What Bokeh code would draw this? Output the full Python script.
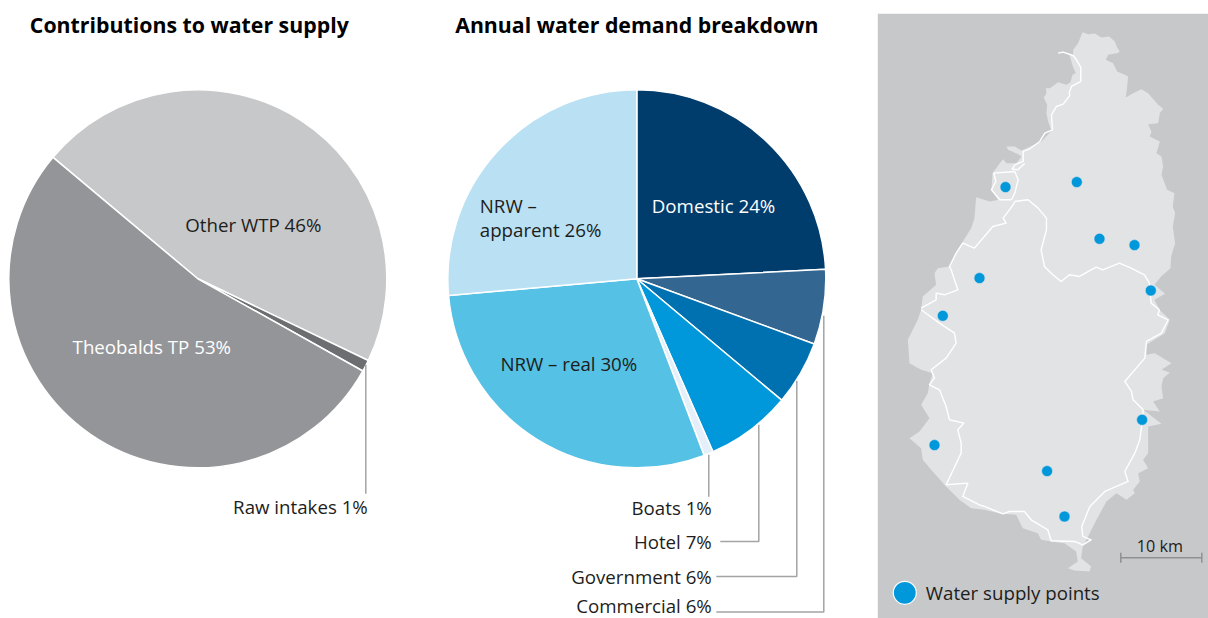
import numpy as np
from bokeh.plotting import figure
from bokeh.embed import file_html
from bokeh.resources import INLINE
from bokeh.core.properties import value

supply_labels = ["Other WTP", "Raw intakes", "Theobalds TP"]
supply_values = [46.0, 1.0, 53.0]
supply_colors = ["#c7c8ca", "#6d6e71", "#939598"]

demand_labels = ["Domestic", "Commercial", "Government", "Hotel", "Boats", "NRW – real", "NRW – apparent"]
demand_values = [24.2, 6.4, 5.5, 7.3, 0.8, 29.4, 26.4]
demand_colors = ["#003c6c", "#336791", "#0071b0", "#0098db", "#e4eff9", "#55c1e4", "#bae0f4"]

point_x = [1005.7, 1077.0, 1099.7, 1134.7, 1151.0, 979.7, 943.0, 1142.3, 934.7, 1047.3, 1064.7]
point_y = [187.3, 182.3, 239.0, 245.3, 290.7, 278.3, 316.0, 420.0, 445.3, 471.3, 516.7]

coast_top_east = [(614,67),(631,73),(651,71),(671,83),(694,80),(711,95),(718,113),(726,125),(718,130),(691,135),(684,150),(706,160),(718,185),(741,195),(751,200),(748,230),(744,263),(766,250),(791,238),(811,250),(828,270),(841,285),(856,297),(846,310),(841,340),(811,343),(821,365),(816,380),(846,395),(836,430),(851,440),(856,470),(851,495),(868,540),(890,550),(885,590),(892,610),(885,650),(892,700),(880,740),(878,775),(850,800),(830,825),(862,852),(830,870),(845,900)]
coast_south = [(876,30),(861,70),(806,105),(806,135),(831,130),(881,160),(851,180),(876,188),(856,205),(851,230),(856,265),(826,275),(846,305),(796,300),(851,342),(811,350),(811,430),(796,450),(811,475),(781,490),(786,515),(766,540),(771,550),(746,570),(716,550),(686,575),(656,630),(636,670),(615,710),(610,745),(640,770),(635,785),(590,782),(570,775),(600,755),(595,725),(560,700),(520,695),(490,690),(480,670),(435,655),(415,615),(370,612),(320,600),(280,595),(245,570),(205,530),(160,480),(135,450),(130,415),(95,385),(125,365),(155,325),(130,285),(150,250),(155,220),(165,190),(130,180),(95,160),(90,90),(120,30),(130,0)]
coast_top_west = [(135,860),(175,825),(170,790),(180,775),(215,770),(240,720),(255,695),(280,655),(290,625),(295,562),(336,575),(361,570),(341,540),(344,490),(366,460),(376,448),(386,460),(416,460),(431,440),(418,432),(391,420),(386,410),(411,410),(431,422),(491,395),(521,363),(511,335),(506,310),(508,285),(498,263),(506,250),(504,235),(516,235),(541,217),(566,225),(578,217),(584,195),(594,190),(585,170),(575,135),(586,137),(586,120),(601,100)]

border_north = [(541,130),(556,127),(586,137),(596,150),(609,173),(609,215),(581,230),(574,250),(576,257),(556,283),(536,290),(521,315),(524,360),(501,370),(486,395),(456,417),(436,425),(436,455),(411,465),(403,478),(420,480),(441,460)]
border_loop = [(411,485),(348,490),(354,515),(341,540),(366,570),(401,570),(411,550),(421,510),(411,485)]
border_mid_a = [(411,575),(451,570),(481,595),(506,625),(506,660),(490,720),(500,770),(525,795),(550,815),(575,795),(605,800),(655,772),(675,780),(725,760),(760,775),(800,795),(815,820),(820,880),(845,900)]
border_mid_b = [(845,0),(840,15),(871,30),(851,70),(806,95),(801,145),(741,215),(761,245),(766,270),(796,300),(794,330),(786,390),(771,430),(741,485),(751,515),(681,545),(636,590),(612,650),(615,680),(640,690),(615,705),(590,695),(520,693),(510,660),(460,630),(440,605),(395,605),(375,612),(320,590),(305,585),(255,560),(270,520),(205,525),(250,430),(250,400),(240,360),(258,340),(215,330),(205,290),(185,240),(155,225),(170,205),(160,180),(205,145),(235,100),(230,70),(185,40),(130,0)]
border_west = [(130,895),(175,870),(175,850),(200,855),(240,840),(220,780),(215,770),(235,730),(255,700),(290,715),(345,650),(385,640),(376,625),(406,585),(411,575)]

FONT = value("Open Sans")
DARK = "#1d1d1b"
LEAD = "#a3a4a6"

def top(pts):
    return [878 + a / 3 for a, b in pts], [10 + b / 3 for a, b in pts]

def bot(pts):
    return [878 + a / 3 for a, b in pts], [310 + b / 3 for a, b in pts]

p = figure(width=1208, height=618, x_range=(0.7, 1208.7), y_range=(618.7, 0.7),
           output_backend="svg", toolbar_location=None, min_border=0)
p.axis.visible = False
p.grid.visible = False
p.outline_line_color = None

def pie(cx, cy, r, vals, cols, start_deg):
    v = np.array(vals) / sum(vals) * 360
    a = np.radians(start_deg + np.concatenate([[0], np.cumsum(v)]))
    p.wedge(x=[cx] * len(v), y=[cy] * len(v), radius=r,
            start_angle=np.pi / 2 - a[:-1], end_angle=np.pi / 2 - a[1:], direction="clock",
            fill_color=cols, line_color="white", line_width=1.5)

def txt(x, y, s, align="left", color=DARK, size="18.7px", style="normal"):
    p.text(x=[x], y=[y], text=[s], text_font=FONT, text_font_size=size, text_color=color,
           text_align=align, text_baseline="middle", text_font_style=style)

pie(198, 279, 189, supply_values, supply_colors, 310)
pie(637, 279, 189, demand_values, demand_colors, 0)

for xs, ys in [([366, 366], [365, 494]), ([709, 709], [455, 497]),
               ([720.5, 759, 759], [541.7, 541.7, 425]),
               ([716.5, 797, 797], [576.7, 576.7, 381]),
               ([716.5, 824, 824], [612.3, 612.3, 316])]:
    p.line(xs, ys, line_color=LEAD, line_width=1.5)

p.quad(left=[878], right=[1212], top=[14], bottom=[622], fill_color="#c7c8ca", line_color=None)
cx1, cy1 = top(coast_top_east)
cx2, cy2 = bot(coast_south)
cx3, cy3 = top(coast_top_west)
p.patch(cx1 + cx2 + cx3, cy1 + cy2 + cy3, fill_color="#e2e3e5", line_color=None)
for conv, pts in [(top, border_north), (top, border_loop), (top, border_mid_a), (bot, border_mid_b), (top, border_west)]:
    xs, ys = conv(pts)
    p.line(xs, ys, line_color="white", line_width=1.4, line_join="round")
p.scatter(point_x, point_y, size=11, fill_color="#0098db", line_color="#e2e3e5", line_width=0.6)

p.line([1121, 1202], [558, 558], line_color="#8f9092", line_width=1.5)
p.line([1121, 1121], [553, 563], line_color="#8f9092", line_width=1.5)
p.line([1202, 1202], [553, 563], line_color="#8f9092", line_width=1.5)
txt(1160, 546, "10 km", "center", size="16.2px")
p.scatter([905], [593], size=23, fill_color="#0098db", line_color="white", line_width=1.2)
txt(926, 593, "Water supply points")

txt(189.5, 25, "Contributions to water supply", "center", "#000000", "21.3px", "bold")
txt(637, 25, "Annual water demand breakdown", "center", "#000000", "21.3px", "bold")
txt(253.5, 225, f"{supply_labels[0]} 46%", "center")
txt(152, 347, f"{supply_labels[2]} 53%", "center", "white")
txt(368, 507, f"{supply_labels[1]} 1%", "right")
txt(652, 206, f"{demand_labels[0]} 24%", "left", "white")
txt(569, 364, f"{demand_labels[5]} 30%", "center")
txt(480, 206, "NRW –", "left")
txt(480, 230, "apparent 26%", "left")
txt(712, 508, f"{demand_labels[4]} 1%", "right")
txt(712, 542, f"{demand_labels[3]} 7%", "right")
txt(712, 577, f"{demand_labels[2]} 6%", "right")
txt(712, 606, f"{demand_labels[1]} 6%", "right")

open("out.html", "w").write(file_html(p, INLINE))
